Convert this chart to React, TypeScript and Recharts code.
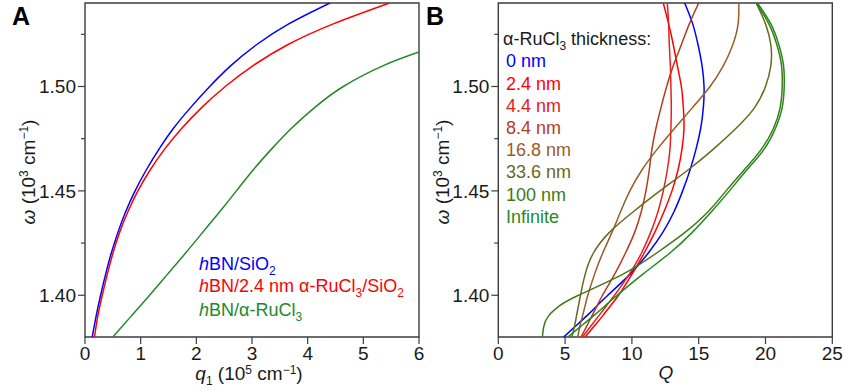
import React from "react";
import { LineChart, Line, XAxis, YAxis, ReferenceArea } from "recharts";

// panel A: dispersion, q1 (1e5 cm^-1) for each omega (1e3 cm^-1)
const omegaA = [1.38, 1.39, 1.4, 1.41, 1.42, 1.43, 1.44, 1.45, 1.46, 1.47, 1.48, 1.49, 1.5, 1.51, 1.52, 1.53, 1.54];
const qHbnSio2 = [0.13, 0.2, 0.28, 0.37, 0.47, 0.59, 0.73, 0.9, 1.1, 1.33, 1.59, 1.9, 2.24, 2.62, 3.08, 3.66, 4.4];
const qHbnRuSio2 = [0.17, 0.23, 0.31, 0.4, 0.5, 0.62, 0.77, 0.95, 1.17, 1.43, 1.74, 2.1, 2.52, 3.02, 3.64, 4.46, 5.47];
const omegaHbnRu = [1.38, 1.39, 1.4, 1.41, 1.42, 1.43, 1.44, 1.45, 1.46, 1.47, 1.48, 1.49, 1.5, 1.51, 1.5165];
const qHbnRu = [0.5, 0.83, 1.16, 1.48, 1.8, 2.11, 2.42, 2.72, 3.02, 3.35, 3.71, 4.13, 4.64, 5.36, 6.0];

const xTicksA = [0, 1, 2, 3, 4, 5, 6];
const yTicks = [1.4, 1.425, 1.45, 1.475, 1.5, 1.525];

// panel B: quality factor Q for each omega
const omegaB = [1.38, 1.385, 1.39, 1.395, 1.4, 1.41, 1.42, 1.43, 1.44, 1.45, 1.46, 1.47, 1.48, 1.49, 1.5, 1.51, 1.52, 1.53, 1.54];
const q0nm = [4.9, 5.75, 6.6, 7.4, 8.2, 9.85, 11.2, 12.3, 13.15, 13.8, 14.35, 14.8, 15.15, 15.35, 15.4, 15.25, 14.95, 14.55, 13.95];
const q2p4nm = [6.5, 7.15, 7.8, 8.4, 9.0, 10.0, 10.9, 11.7, 12.4, 13.0, 13.45, 13.75, 13.9, 13.85, 13.7, 13.4, 13.1, 12.75, 12.35];
const q4p4nm = [6.3, 6.9, 7.5, 8.1, 8.7, 9.8, 10.7, 11.4, 11.95, 12.35, 12.65, 12.85, 12.92, 12.95, 12.92, 12.88, 12.8, 12.75, 12.65];
const q8p4nm = [6.2, 6.6, 7.0, 7.4, 7.8, 8.7, 9.5, 10.2, 10.7, 11.05, 11.3, 11.5, 11.8, 12.18, 12.6, 13.1, 13.7, 14.3, 15.0];
const q16p8nm = [5.95, 6.1, 6.3, 6.5, 6.7, 7.2, 7.8, 8.5, 9.15, 9.85, 10.75, 11.9, 13.2, 14.55, 15.85, 16.85, 17.55, 17.95, 18.0];
const q33p6nm = [5.5, 5.7, 5.85, 6.0, 6.15, 6.5, 7.1, 8.3, 10.1, 12.1, 14.2, 16.1, 17.8, 19.2, 20.0, 20.4, 20.4, 20.0, 19.3];
const q100nm = [3.3, 3.4, 3.75, 4.6, 6.0, 9.3, 11.8, 13.95, 15.7, 17.05, 18.4, 19.7, 20.6, 21.1, 21.25, 21.2, 20.85, 20.25, 19.3];
const qInfinite = [5.2, 6.15, 7.1, 8.0, 8.9, 10.8, 12.8, 14.5, 15.95, 17.3, 18.6, 19.9, 20.75, 21.25, 21.4, 21.35, 21.0, 20.4, 19.4];
const xTicksB = [0, 5, 10, 15, 20, 25];

const FONT = "'Liberation Sans', Arial, sans-serif";
const FRAME = "#3c3c3c";
const TXT = "#1a1a1a";

const zip = (w: number[], q: number[]) => w.map((v, i) => ({ w: v, q: q[i] }));

const seriesA = [
  { name: "hBN/SiO2", color: "#0000ff", data: zip(omegaA, qHbnSio2) },
  { name: "hBN/2.4 nm RuCl3/SiO2", color: "#ff0000", data: zip(omegaA, qHbnRuSio2) },
  { name: "hBN/RuCl3", color: "#23882a", data: zip(omegaHbnRu, qHbnRu) },
];

const seriesB = [
  { name: "0 nm", color: "#0000ff", data: zip(omegaB, q0nm) },
  { name: "2.4 nm", color: "#ff0000", data: zip(omegaB, q2p4nm) },
  { name: "4.4 nm", color: "#e8201c", data: zip(omegaB, q4p4nm) },
  { name: "8.4 nm", color: "#b43c1c", data: zip(omegaB, q8p4nm) },
  { name: "16.8 nm", color: "#9a5c26", data: zip(omegaB, q16p8nm) },
  { name: "33.6 nm", color: "#696820", data: zip(omegaB, q33p6nm) },
  { name: "100 nm", color: "#3e7a16", data: zip(omegaB, q100nm) },
  { name: "Infinite", color: "#1f8c1f", data: zip(omegaB, qInfinite) },
];

const YTick = (props: any) => {
  const { x, y, payload } = props;
  const v = payload.value;
  const major = Math.abs(v * 20 - Math.round(v * 20)) < 1e-6;
  return (
    <g>
      <line x1={x - (major ? 7 : 4)} x2={x} y1={y} y2={y} stroke={FRAME} strokeWidth={1.2} />
      {major && (
        <text x={x - 9} y={y + 6.8} textAnchor="end" fontSize={19} fontFamily={FONT} fill={TXT}>
          {v.toFixed(2)}
        </text>
      )}
    </g>
  );
};

const XTick = (props: any) => {
  const { x, y, payload } = props;
  return (
    <g>
      <line x1={x} x2={x} y1={y} y2={y + 7} stroke={FRAME} strokeWidth={1.2} />
      <text x={x} y={y + 23} textAnchor="middle" fontSize={19} fontFamily={FONT} fill={TXT}>
        {payload.value}
      </text>
    </g>
  );
};

const Panel = ({ series, xMax, xTicks, yWidth, right }: any) => (
  <LineChart width={yWidth + 334 + right} height={391} margin={{ top: 3, right, bottom: 0, left: 0 }}>
    <XAxis
      dataKey="q"
      type="number"
      domain={[0, xMax]}
      ticks={xTicks}
      interval={0}
      height={54}
      tickSize={0}
      tickMargin={0}
      axisLine={false}
      tickLine={false}
      tick={<XTick />}
      allowDataOverflow
    />
    <YAxis
      dataKey="w"
      type="number"
      domain={[1.38, 1.54]}
      ticks={yTicks}
      interval={0}
      width={yWidth}
      tickSize={0}
      tickMargin={0}
      axisLine={false}
      tickLine={false}
      tick={<YTick />}
      allowDataOverflow
    />
    {series.map((s: any) => (
      <Line
        key={s.name}
        data={s.data}
        dataKey="w"
        type="natural"
        stroke={s.color}
        strokeWidth={1.5}
        dot={false}
        isAnimationActive={false}
      />
    ))}
    <ReferenceArea x1={0} x2={xMax} y1={1.38} y2={1.54} fill="none" stroke={FRAME} strokeWidth={1.4} ifOverflow="visible" />
  </LineChart>
);

const legendB = seriesB.map((s, i) => ({ ...s, y: 67.4 + i * 22.2 }));

export default function App() {
  return (
    <div style={{ position: "absolute", left: 0, top: 0, width: 846, height: 391, background: "#fff", fontFamily: FONT }}>
      <div style={{ position: "absolute", left: 0, top: 0 }}>
        <Panel series={seriesA} xMax={6} xTicks={xTicksA} yWidth={85} right={12} />
      </div>
      <div style={{ position: "absolute", left: 420, top: 0 }}>
        <Panel series={seriesB} xMax={25} xTicks={xTicksB} yWidth={78.3} right={13.7} />
      </div>
      <svg width={846} height={391} style={{ position: "absolute", left: 0, top: 0, pointerEvents: "none" }} fontFamily={FONT}>
        <text x={12} y={25} fontSize={25} fontWeight="bold" fill="#000">A</text>
        <text x={426} y={25} fontSize={25} fontWeight="bold" fill="#000">B</text>

        {/* axis titles */}
        <text x={35} y={172} transform="rotate(-90 35 172)" textAnchor="middle" fontSize={19} fill={TXT}>
          <tspan fontStyle="italic">ω</tspan> (10<tspan dy={-7} fontSize={12}>3</tspan>
          <tspan dy={7}> cm</tspan>
          <tspan dy={-7} fontSize={12}>−1</tspan>
          <tspan dy={7}>)</tspan>
        </text>
        <text x={449} y={172} transform="rotate(-90 449 172)" textAnchor="middle" fontSize={19} fill={TXT}>
          <tspan fontStyle="italic">ω</tspan> (10<tspan dy={-7} fontSize={12}>3</tspan>
          <tspan dy={7}> cm</tspan>
          <tspan dy={-7} fontSize={12}>−1</tspan>
          <tspan dy={7}>)</tspan>
        </text>
        <text x={249} y={380} textAnchor="middle" fontSize={19} fill={TXT}>
          <tspan fontStyle="italic">q</tspan>
          <tspan dy={5} fontSize={12}>1</tspan>
          <tspan dy={-5}> (10</tspan>
          <tspan dy={-6} fontSize={12}>5</tspan>
          <tspan dy={6}> cm</tspan>
          <tspan dy={-6} fontSize={12}>−1</tspan>
          <tspan dy={6}>)</tspan>
        </text>
        <text x={666} y={379} textAnchor="middle" fontSize={19} fontStyle="italic" fill={TXT}>Q</text>

        {/* legend A */}
        <text x={199} y={269.5} fontSize={18} fill={seriesA[0].color}>
          <tspan fontStyle="italic">h</tspan>BN/SiO<tspan dy={5} fontSize={12}>2</tspan>
        </text>
        <text x={199} y={292} fontSize={18} fill={seriesA[1].color}>
          <tspan fontStyle="italic">h</tspan>BN/2.4 nm α-RuCl<tspan dy={5} fontSize={12}>3</tspan>
          <tspan dy={-5}>/SiO</tspan>
          <tspan dy={5} fontSize={12}>2</tspan>
        </text>
        <text x={199} y={316} fontSize={18} fill={seriesA[2].color}>
          <tspan fontStyle="italic">h</tspan>BN/α-RuCl<tspan dy={5} fontSize={12}>3</tspan>
        </text>

        {/* legend B */}
        <text x={503} y={44.7} fontSize={18} fill={TXT}>
          α-RuCl<tspan dy={5} fontSize={12}>3</tspan>
          <tspan dy={-5}> thickness:</tspan>
        </text>
        {legendB.map((s) => (
          <text key={s.name} x={506} y={s.y} fontSize={18} fill={s.color}>
            {s.name}
          </text>
        ))}
      </svg>
    </div>
  );
}
